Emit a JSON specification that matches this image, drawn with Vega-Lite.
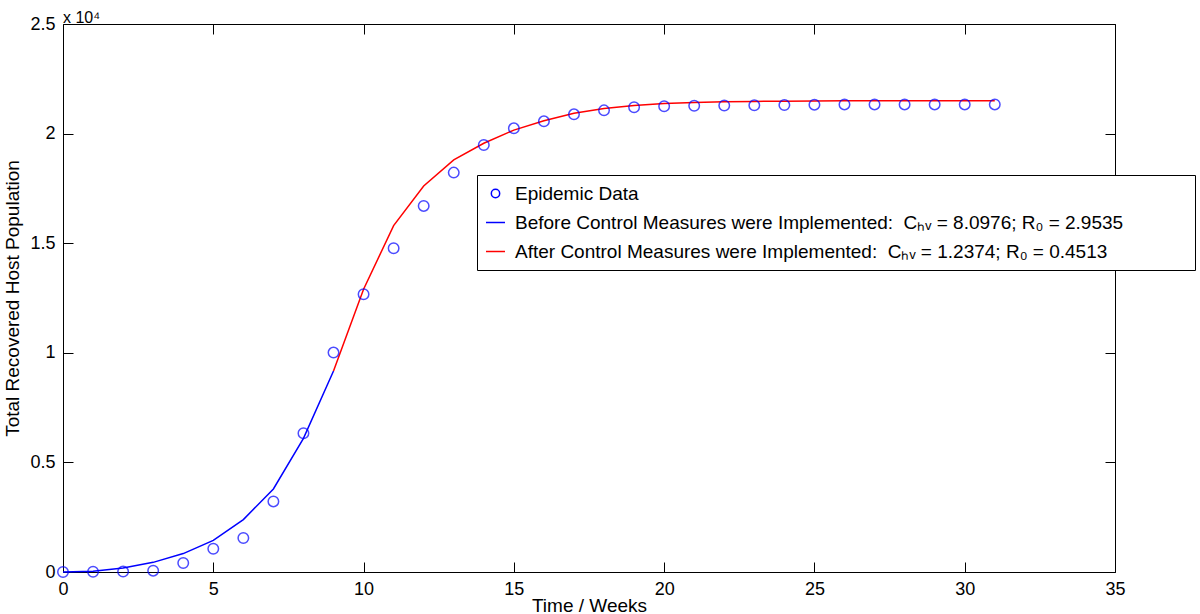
{
  "$schema": "https://vega.github.io/schema/vega-lite/v6.json",
  "width": 1052,
  "height": 548,
  "autosize": {"type": "none"},
  "padding": {"left": 63, "top": 24, "right": 85, "bottom": 42},
  "background": "white",
  "title": {"text": "x 10⁴", "anchor": "start", "frame": "group", "fontSize": 16, "fontWeight": "normal", "font": "Liberation Sans", "color": "black", "offset": -24, "baseline": "alphabetic"},
  "config": {
    "view": {"stroke": null},
    "font": "Liberation Sans",
    "axis": {
      "domainColor": "black", "tickColor": "black", "labelColor": "black", "titleColor": "black",
      "labelFont": "Liberation Sans", "titleFont": "Liberation Sans",
      "labelFontSize": 18, "titleFontSize": 19, "titleFontWeight": "normal",
      "tickSize": -10, "labelPadding": 18, "grid": false, "domainWidth": 1, "tickWidth": 1,
      "labelFlush": false, "labelOverlap": false
    }
  },
  "data": {"values": [
    {"week": 0, "value": 0, "series": "Epidemic Data"},
    {"week": 1, "value": 10, "series": "Epidemic Data"},
    {"week": 2, "value": 20, "series": "Epidemic Data"},
    {"week": 3, "value": 60, "series": "Epidemic Data"},
    {"week": 4, "value": 410, "series": "Epidemic Data"},
    {"week": 5, "value": 1060, "series": "Epidemic Data"},
    {"week": 6, "value": 1550, "series": "Epidemic Data"},
    {"week": 7, "value": 3220, "series": "Epidemic Data"},
    {"week": 8, "value": 6330, "series": "Epidemic Data"},
    {"week": 9, "value": 10010, "series": "Epidemic Data"},
    {"week": 10, "value": 12670, "series": "Epidemic Data"},
    {"week": 11, "value": 14770, "series": "Epidemic Data"},
    {"week": 12, "value": 16700, "series": "Epidemic Data"},
    {"week": 13, "value": 18220, "series": "Epidemic Data"},
    {"week": 14, "value": 19480, "series": "Epidemic Data"},
    {"week": 15, "value": 20240, "series": "Epidemic Data"},
    {"week": 16, "value": 20560, "series": "Epidemic Data"},
    {"week": 17, "value": 20880, "series": "Epidemic Data"},
    {"week": 18, "value": 21060, "series": "Epidemic Data"},
    {"week": 19, "value": 21200, "series": "Epidemic Data"},
    {"week": 20, "value": 21250, "series": "Epidemic Data"},
    {"week": 21, "value": 21270, "series": "Epidemic Data"},
    {"week": 22, "value": 21280, "series": "Epidemic Data"},
    {"week": 23, "value": 21290, "series": "Epidemic Data"},
    {"week": 24, "value": 21300, "series": "Epidemic Data"},
    {"week": 25, "value": 21320, "series": "Epidemic Data"},
    {"week": 26, "value": 21330, "series": "Epidemic Data"},
    {"week": 27, "value": 21330, "series": "Epidemic Data"},
    {"week": 28, "value": 21330, "series": "Epidemic Data"},
    {"week": 29, "value": 21330, "series": "Epidemic Data"},
    {"week": 30, "value": 21330, "series": "Epidemic Data"},
    {"week": 31, "value": 21330, "series": "Epidemic Data"},
    {"week": 0, "value": 0, "series": "Before"},
    {"week": 1, "value": 30, "series": "Before"},
    {"week": 2, "value": 180, "series": "Before"},
    {"week": 3, "value": 440, "series": "Before"},
    {"week": 4, "value": 840, "series": "Before"},
    {"week": 5, "value": 1440, "series": "Before"},
    {"week": 6, "value": 2390, "series": "Before"},
    {"week": 7, "value": 3790, "series": "Before"},
    {"week": 8, "value": 6100, "series": "Before"},
    {"week": 9, "value": 9170, "series": "Before"},
    {"week": 9, "value": 9170, "series": "After"},
    {"week": 10, "value": 12900, "series": "After"},
    {"week": 11, "value": 15800, "series": "After"},
    {"week": 12, "value": 17610, "series": "After"},
    {"week": 13, "value": 18800, "series": "After"},
    {"week": 14, "value": 19560, "series": "After"},
    {"week": 15, "value": 20160, "series": "After"},
    {"week": 16, "value": 20590, "series": "After"},
    {"week": 17, "value": 20930, "series": "After"},
    {"week": 18, "value": 21150, "series": "After"},
    {"week": 19, "value": 21280, "series": "After"},
    {"week": 20, "value": 21370, "series": "After"},
    {"week": 21, "value": 21420, "series": "After"},
    {"week": 22, "value": 21450, "series": "After"},
    {"week": 23, "value": 21470, "series": "After"},
    {"week": 24, "value": 21480, "series": "After"},
    {"week": 25, "value": 21490, "series": "After"},
    {"week": 26, "value": 21495, "series": "After"},
    {"week": 27, "value": 21500, "series": "After"},
    {"week": 28, "value": 21500, "series": "After"},
    {"week": 29, "value": 21500, "series": "After"},
    {"week": 30, "value": 21500, "series": "After"},
    {"week": 31, "value": 21500, "series": "After"}
  ]},
  "resolve": {"axis": {"x": "independent", "y": "independent"}},
  "layer": [
    {
      "transform": [{"filter": "datum.series !== 'Epidemic Data'"}],
      "mark": {"type": "line", "strokeWidth": 1.5},
      "encoding": {
        "x": {"field": "week", "type": "quantitative", "scale": {"domain": [0, 35], "nice": false},
              "axis": {"orient": "top", "labels": false, "title": null, "values": [0,5,10,15,20,25,30,35]}},
        "y": {"field": "value", "type": "quantitative", "scale": {"domain": [0, 25000], "nice": false},
              "axis": {"orient": "right", "labels": false, "title": null, "values": [0,5000,10000,15000,20000,25000]}},
        "color": {"field": "series", "type": "nominal",
                  "scale": {"domain": ["Epidemic Data", "Before", "After"], "range": ["#0000ff", "#0000ff", "#ff0000"]},
                  "legend": {
                    "title": null, "orient": "none", "legendX": 414, "legendY": 151,
                    "strokeColor": "black", "fillColor": "white", "padding": 8, "cornerRadius": 0,
                    "labelFont": "Liberation Sans", "labelFontSize": 19, "labelColor": "black", "labelLimit": 1000,
                    "labelOffset": 9, "rowPadding": 8, "symbolSize": 361, "symbolStrokeWidth": 1.5,
                    "labelExpr": "datum.value === 'Before' ? 'Before Control Measures were Implemented: \u00a0Cₕᵥ = 8.0976; R₀ = 2.9535\u00a0\u00a0\u00a0\u00a0\u00a0\u00a0\u00a0\u00a0\u00a0\u00a0\u00a0\u00a0\u200b' : datum.value === 'After' ? 'After Control Measures were Implemented: \u00a0Cₕᵥ = 1.2374; R₀ = 0.4513' : datum.label",
                    "encode": {"symbols": {"update": {
                      "shape": {"signal": "datum.value === 'Epidemic Data' ? 'circle' : 'stroke'"},
                      "size": {"signal": "datum.value === 'Epidemic Data' ? 70 : 361"},
                      "fill": {"value": "transparent"},
                      "stroke": {"scale": "color", "field": "value"},
                      "strokeWidth": {"value": 1.5}
                    }}}
                  }},
        "detail": {"field": "series"}
      }
    },
    {
      "transform": [{"filter": "datum.series === 'Epidemic Data'"}],
      "mark": {"type": "point", "shape": "circle", "filled": false, "size": 110, "strokeWidth": 1.5},
      "encoding": {
        "x": {"field": "week", "type": "quantitative", "scale": {"domain": [0, 35], "nice": false},
              "axis": {"orient": "bottom", "title": "Time / Weeks", "titlePadding": -2, "values": [0,5,10,15,20,25,30,35]}},
        "y": {"field": "value", "type": "quantitative", "scale": {"domain": [0, 25000], "nice": false},
              "axis": {"orient": "left", "title": "Total Recovered Host Population", "titlePadding": 7,
                       "values": [0,5000,10000,15000,20000,25000], "labelExpr": "toString(datum.value / 10000)"}},
        "color": {"field": "series", "type": "nominal",
                  "scale": {"domain": ["Epidemic Data", "Before", "After"], "range": ["#0000ff", "#0000ff", "#ff0000"]}}
      }
    }
  ]
}
